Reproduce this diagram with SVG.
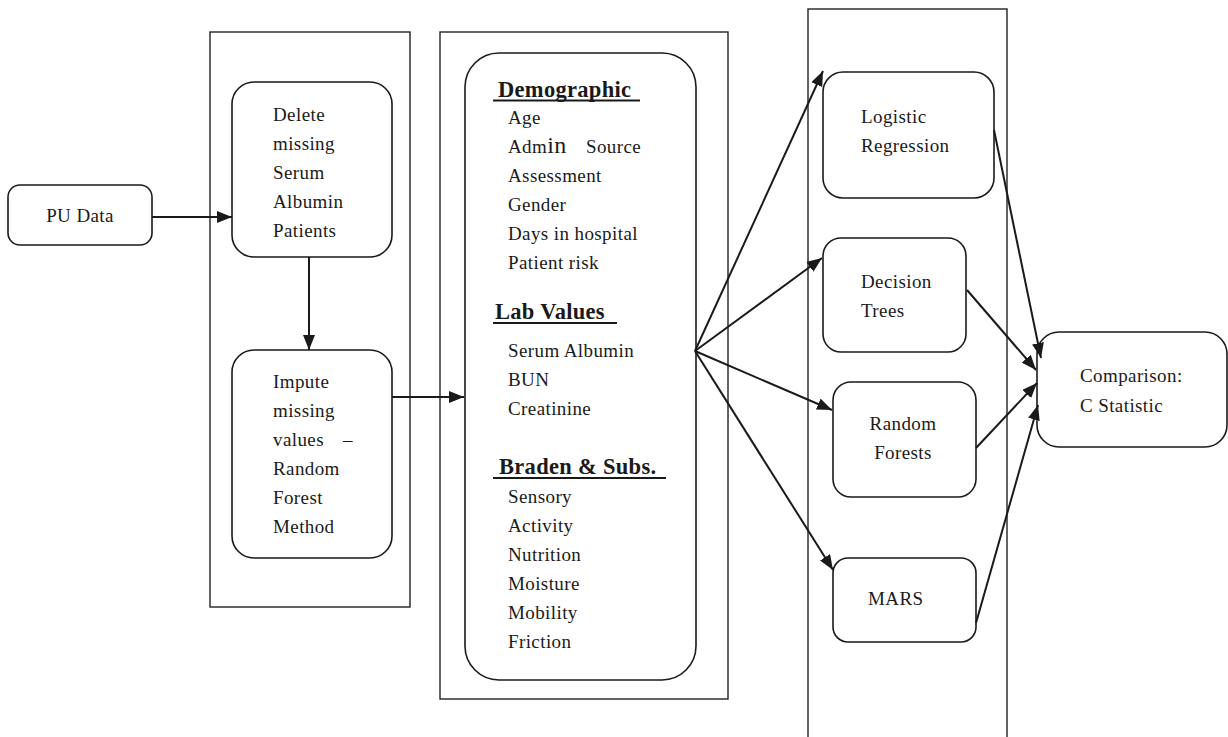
<svg xmlns="http://www.w3.org/2000/svg" width="1228" height="737" viewBox="0 0 1228 737">
<defs>
<marker id="ah" markerUnits="userSpaceOnUse" markerWidth="16" markerHeight="12" refX="15" refY="6" orient="auto">
<path d="M0,0 L15,6 L0,12 z" fill="#1a1a1a"/>
</marker>
<style>
.frame{fill:none;stroke:#222;stroke-width:1.4}
.node{fill:#fff;stroke:#1a1a1a;stroke-width:1.6}
.t{font-family:"Liberation Serif","Times New Roman",serif;font-size:19px;letter-spacing:0.4px;fill:#1a1a1a}
.h{font-family:"Liberation Serif","Times New Roman",serif;font-size:22.5px;letter-spacing:0.3px;font-weight:bold;fill:#1a1a1a}
.ul{stroke:#1a1a1a;stroke-width:2}
.c{fill:none;stroke:#1a1a1a;stroke-width:2;marker-end:url(#ah)}
</style>
</defs>
<rect width="1228" height="737" fill="#fff"/>
<g id="frames">
<rect class="frame" x="210" y="32" width="200" height="575"/>
<rect class="frame" x="440" y="32" width="288" height="667"/>
<rect class="frame" x="808" y="9" width="199" height="740"/>
</g>
<g id="pu-data">
<rect class="node" x="8" y="185" width="144" height="60" rx="12"/>
<text class="t" x="80" y="222" text-anchor="middle">PU Data</text>
</g>
<g id="delete">
<rect class="node" x="232" y="82" width="160" height="175" rx="22"/>
<text class="t" x="273" y="121">Delete</text>
<text class="t" x="273" y="150">missing</text>
<text class="t" x="273" y="179">Serum</text>
<text class="t" x="273" y="208">Albumin</text>
<text class="t" x="273" y="237">Patients</text>
</g>
<g id="impute">
<rect class="node" x="232" y="350" width="160" height="208" rx="22"/>
<text class="t" x="273" y="388">Impute</text>
<text class="t" x="273" y="417">missing</text>
<text class="t" x="273" y="446">values<tspan x="343">–</tspan></text>
<text class="t" x="273" y="475">Random</text>
<text class="t" x="273" y="504">Forest</text>
<text class="t" x="273" y="533">Method</text>
</g>
<g id="variables">
<rect class="node" x="465" y="53" width="231" height="627" rx="34"/>
<text class="h" x="498" y="97">Demographic</text>
<line class="ul" x1="493" y1="100.5" x2="640" y2="100.5"/>
<text class="t" x="508" y="124">Age</text>
<text class="t" x="508" y="153">Adm<tspan font-size="24">in</tspan><tspan x="586">Source</tspan></text>
<text class="t" x="508" y="182">Assessment</text>
<text class="t" x="508" y="211">Gender</text>
<text class="t" x="508" y="240">Days in hospital</text>
<text class="t" x="508" y="269">Patient risk</text>
<text class="h" x="495" y="319">Lab Values</text>
<line class="ul" x1="493" y1="323" x2="617" y2="323"/>
<text class="t" x="508" y="357">Serum Albumin</text>
<text class="t" x="508" y="386">BUN</text>
<text class="t" x="508" y="415">Creatinine</text>
<text class="h" x="499" y="474">Braden &amp; Subs.</text>
<line class="ul" x1="493" y1="478" x2="666" y2="478"/>
<text class="t" x="508" y="503">Sensory</text>
<text class="t" x="508" y="532">Activity</text>
<text class="t" x="508" y="561">Nutrition</text>
<text class="t" x="508" y="590">Moisture</text>
<text class="t" x="508" y="619">Mobility</text>
<text class="t" x="508" y="648">Friction</text>
</g>
<g id="logistic">
<rect class="node" x="823" y="72" width="171" height="126" rx="20"/>
<text class="t" x="861" y="123">Logistic</text>
<text class="t" x="861" y="152">Regression</text>
</g>
<g id="decision">
<rect class="node" x="823" y="238" width="143" height="114" rx="18"/>
<text class="t" x="861" y="288">Decision</text>
<text class="t" x="861" y="317">Trees</text>
</g>
<g id="random-forests">
<rect class="node" x="833" y="382" width="143" height="115" rx="18"/>
<text class="t" x="903" y="430" text-anchor="middle">Random</text>
<text class="t" x="903" y="459" text-anchor="middle">Forests</text>
</g>
<g id="mars">
<rect class="node" x="833" y="558" width="143" height="84" rx="15"/>
<text class="t" x="868" y="605">MARS</text>
</g>
<g id="comparison">
<rect class="node" x="1037" y="332" width="190" height="115" rx="22"/>
<text class="t" x="1080" y="382">Comparison:</text>
<text class="t" x="1080" y="412">C Statistic</text>
</g>
<g id="connectors">
<line class="c" x1="152" y1="217" x2="232" y2="217"/>
<line class="c" x1="309" y1="257" x2="309" y2="350"/>
<line class="c" x1="392" y1="397" x2="464" y2="397"/>
<line class="c" x1="695" y1="351" x2="823" y2="71"/>
<line class="c" x1="695" y1="351" x2="822" y2="258"/>
<line class="c" x1="695" y1="351" x2="832" y2="410"/>
<line class="c" x1="695" y1="351" x2="833" y2="570"/>
<line class="c" x1="994" y1="130" x2="1041" y2="358"/>
<line class="c" x1="967" y1="290" x2="1036" y2="370"/>
<line class="c" x1="976" y1="448" x2="1037" y2="383"/>
<line class="c" x1="976" y1="623" x2="1038" y2="405"/>
</g>
</svg>
